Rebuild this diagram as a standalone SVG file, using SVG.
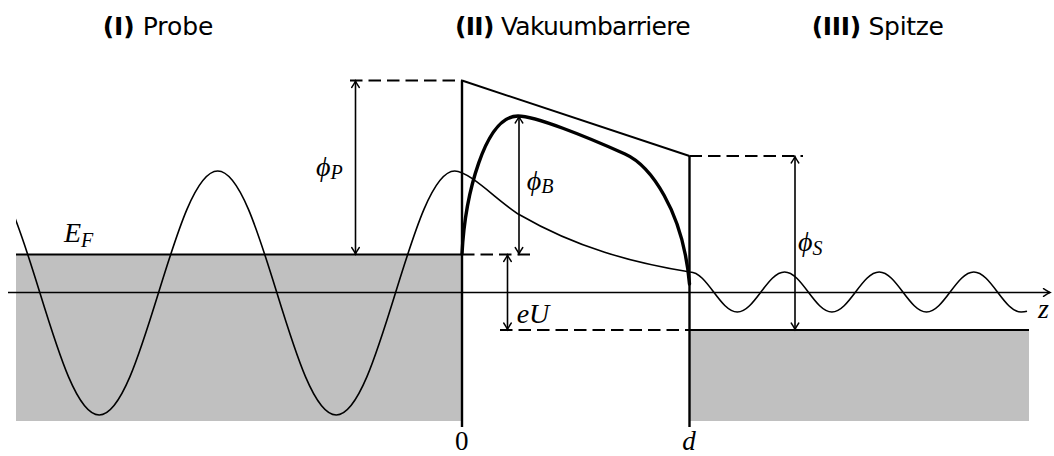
<svg xmlns="http://www.w3.org/2000/svg" width="1054" height="456" viewBox="0 0 1054 456">
<style>
.title{font-family:"DejaVu Sans","Liberation Sans",sans-serif;font-size:25px;fill:#000}
.num{font-weight:bold}
.m{font-family:"Liberation Serif","DejaVu Serif",serif;font-style:italic;font-size:28px;fill:#000}
.up{font-family:"Liberation Serif","DejaVu Serif",serif;font-size:27px;fill:#000}
.sub{font-size:20px}
.dash{fill:none;stroke:#000;stroke-width:2;stroke-dasharray:12.5 6}
.solid{fill:none;stroke:#000;stroke-width:2}
.wall{fill:none;stroke:#000;stroke-width:2.4}
.thin{fill:none;stroke:#000;stroke-width:1.6}
.thick{fill:none;stroke:#000;stroke-width:3.4;stroke-linecap:round}
.arr{fill:none;stroke:#000;stroke-width:1.6;marker-start:url(#ah);marker-end:url(#ah)}
.gray{fill:#c0c0c0}
</style>
<defs>
<marker id="ah" viewBox="-8 -5 10 10" refX="0" refY="0" markerWidth="10" markerHeight="10" markerUnits="userSpaceOnUse" orient="auto-start-reverse">
<path d="M -6.5 -3.8 Q -2 -0.8 0 0 Q -2 0.8 -6.5 3.8" fill="none" stroke="#000" stroke-width="1.4" stroke-linecap="round"/>
</marker>
<clipPath id="clipL"><rect x="16" y="0" width="1054" height="456"/></clipPath>
</defs>

<g id="probe-region">
<rect class="gray" x="16" y="254.5" width="446" height="166.5"/>
<line class="solid" x1="16" y1="254.5" x2="462" y2="254.5"/>
</g>
<g id="tip-region">
<rect class="gray" x="689.5" y="330" width="339.5" height="91"/>
<line class="solid" x1="689.5" y1="330" x2="1029" y2="330"/>
</g>

<g id="axis">
<line x1="8" y1="292.5" x2="1050" y2="292.5" stroke="#000" stroke-width="1.6" marker-end="url(#ah)"/>
</g>

<g id="wavefunction">
<path class="thin" clip-path="url(#clipL)" d="M -19.3 171 C 23.86 171 56.04 415 99.2 415 S 174.54 171 217.7 171 S 293.04 415 336.2 415 S 411.54 171 454.7 171 C 470 171 500 203.4 520 215 C 576 247.5 633 262.9 690 272 C 707.25 272 720.05 312 737.3 312 S 767.35 272 784.6 272 S 814.65 312 831.9 312 S 861.95 272 879.2 272 S 909.25 312 926.5 312 S 956.55 272 973.8 272 S 1003.85 312 1021.1 312 C 1023.5 312 1025.5 311.7 1027 311.3"/>
</g>

<g id="barrier">
<line class="wall" x1="462" y1="80.5" x2="462" y2="427"/>
<line class="wall" x1="689.5" y1="156" x2="689.5" y2="427"/>
<line class="solid" x1="462" y1="80.5" x2="689.5" y2="156" stroke-width="2.2"/>
<path class="thick" d="M 462 254 C 465 195 485 116 518 116 C 535 116 585 136 625 154 C 650 165.25 683 210 689.5 284"/>
</g>

<g id="connectors">
<line class="dash" x1="350" y1="80.5" x2="462" y2="80.5"/>
<line class="dash" x1="462" y1="254.5" x2="533" y2="254.5"/>
<line class="dash" x1="500" y1="330" x2="689.5" y2="330"/>
<line class="dash" x1="689.5" y1="156" x2="803" y2="156"/>
<line class="arr" x1="355.5" y1="81" x2="355.5" y2="254"/>
<line class="arr" x1="519" y1="116.5" x2="519" y2="254"/>
<line class="arr" x1="507.5" y1="255" x2="507.5" y2="329.5"/>
<line class="arr" x1="795" y1="156.5" x2="795" y2="329.5"/>
</g>

<g id="labels">
<text class="title" x="102.7" y="35" textLength="110.7" lengthAdjust="spacing"><tspan class="num">(I)</tspan> Probe</text>
<text class="title" x="455" y="35" textLength="235.7" lengthAdjust="spacing"><tspan class="num">(II)</tspan> Vakuumbarriere</text>
<text class="title" x="811.7" y="35" textLength="132.3" lengthAdjust="spacing"><tspan class="num">(III)</tspan> Spitze</text>
<text class="m" x="64" y="241.7">E<tspan class="sub" dy="5">F</tspan></text>
<text class="m" x="316" y="176.4">ϕ<tspan class="sub" dy="3">P</tspan></text>
<text class="m" x="526.7" y="189.6">ϕ<tspan class="sub" dy="3.7">B</tspan></text>
<text class="m" x="798" y="251.3">ϕ<tspan class="sub" dy="3.7">S</tspan></text>
<text class="m" x="516.7" y="323">eU</text>
<text class="m" x="1038" y="318">z</text>
<text class="up" x="461.7" y="450" text-anchor="middle">0</text>
<text class="m" x="689" y="450" text-anchor="middle" style="font-size:27px">d</text>
</g>
</svg>
